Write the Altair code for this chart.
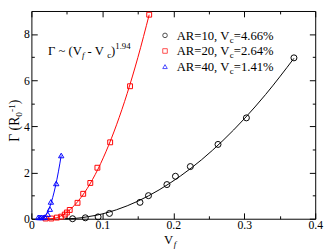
import altair as alt
import pandas as pd

FONT = "Liberation Serif"
W, H = 291, 213

# ---- data ----
black_x = [0.058, 0.076, 0.094, 0.110, 0.153, 0.165, 0.191, 0.203, 0.224, 0.263, 0.303, 0.370]
black_y = [0.00, 0.04, 0.08, 0.23, 0.71, 1.00, 1.48, 1.84, 2.26, 3.22, 4.37, 6.97]

red_x = [0.020, 0.028, 0.036, 0.042, 0.047, 0.050, 0.054, 0.065, 0.073, 0.083, 0.093, 0.111, 0.139, 0.166]
red_y = [0.01, 0.01, 0.05, 0.09, 0.18, 0.27, 0.38, 0.69, 1.08, 1.55, 2.21, 3.31, 5.74, 8.84]

blue_x = [0.0096, 0.012, 0.014, 0.0165, 0.019, 0.023, 0.026, 0.0275, 0.035, 0.042]
blue_y = [0.06, 0.06, 0.06, 0.06, 0.07, 0.20, 0.42, 0.73, 1.53, 2.74]

black_fit_x = [0.047, 0.06, 0.08, 0.10, 0.12, 0.15, 0.18, 0.21, 0.24, 0.27, 0.30, 0.33, 0.37]
black_fit_y = [0.00, 0.01, 0.09, 0.21, 0.39, 0.76, 1.25, 1.85, 2.56, 3.39, 4.33, 5.38, 6.95]

red_fit_x = [0.018, 0.0264, 0.035, 0.045, 0.055, 0.065, 0.075, 0.09, 0.105, 0.12, 0.135, 0.15, 0.166]
red_fit_y = [0.0, 0.0, 0.04, 0.18, 0.41, 0.73, 1.14, 1.92, 2.90, 4.07, 5.43, 6.98, 8.84]

blue_fit_x = [0.009, 0.0141, 0.018, 0.022, 0.026, 0.030, 0.034, 0.038, 0.042]
blue_fit_y = [0.0, 0.0, 0.06, 0.24, 0.52, 0.92, 1.42, 2.03, 2.74]

x_major = [0, 0.1, 0.2, 0.3, 0.4]
x_minor = [0.05, 0.15, 0.25, 0.35]
y_major = [0, 2, 4, 6, 8]
y_minor = [1, 3, 5, 7]

legend_labels = ["AR=10, V", "AR=20, V", "AR=40, V"]
legend_values = ["=4.66%", "=2.64%", "=1.41%"]
legend_colors = ["black", "red", "blue"]
legend_shapes = ["circle", "square", "triangle-up"]

xs = alt.Scale(domain=[0, 0.4], nice=False, zero=False)
ys = alt.Scale(domain=[0, 9], nice=False, zero=False)


def ax(orient, values, size, labels, pad=1):
    return alt.Axis(orient=orient, values=values, tickSize=size, offset=-size,
                    labels=labels, domain=False, grid=False, title=None,
                    tickColor="black", tickWidth=1, labelFont=FONT,
                    labelFontSize=12, labelColor="black", labelFlush=False,
                    labelOverlap=False, labelPadding=pad, format="~g")


def df(x, y):
    return pd.DataFrame({"x": x, "y": y})


def line(x, y, color, xa, ya):
    return alt.Chart(df(x, y)).mark_line(color=color, strokeWidth=1, interpolate="monotone").encode(
        x=alt.X("x:Q", scale=xs, axis=xa), y=alt.Y("y:Q", scale=ys, axis=ya))


def pts(x, y, color, shape, size, xa, ya):
    return alt.Chart(df(x, y)).mark_point(color=color, shape=shape, size=size, filled=False,
                                          strokeWidth=1, opacity=1).encode(
        x=alt.X("x:Q", scale=xs, axis=xa), y=alt.Y("y:Q", scale=ys, axis=ya))


def txt(s, px, py, size=13, dy=0, dx=0, angle=0, italic=False):
    return alt.Chart(pd.DataFrame({"t": [s]})).mark_text(
        align="left", baseline="alphabetic", font=FONT, fontSize=size, dy=dy, dx=dx,
        angle=angle, fontStyle="italic" if italic else "normal", color="black").encode(
        x=alt.value(px), y=alt.value(py), text="t:N")


layers = [
    line(black_fit_x, black_fit_y, "black", ax("bottom", x_major, 6, True, 1), ax("left", y_major, 6, True, 2)),
    pts(black_x, black_y, "black", "circle", 38, ax("bottom", x_minor, 3, False), ax("left", y_minor, 3, False)),
    line(red_fit_x, red_fit_y, "red", ax("top", x_major, 6, False), ax("right", y_major, 6, False)),
    pts(red_x, red_y, "red", "square", 25, ax("top", x_minor, 3, False), ax("right", y_minor, 3, False)),
    line(blue_fit_x, blue_fit_y, "blue", None, None),
    pts(blue_x, blue_y, "blue", "triangle-up", 30, None, None),
]

# legend (symbols + text with subscript)
row_y = [25, 41, 57]
for i in range(3):
    layers.append(
        alt.Chart(pd.DataFrame({"t": [legend_labels[i]]})).mark_point(
            color=legend_colors[i], shape=legend_shapes[i], size=22, filled=False, strokeWidth=1).encode(
            x=alt.value(137), y=alt.value(row_y[i])))
    layers.append(txt(legend_labels[i], 149, row_y[i] + 4.5))
    layers.append(txt("c", 203.3, row_y[i] + 4.5, size=9, dy=3))
    layers.append(txt(legend_values[i], 207.5, row_y[i] + 4.5))

# annotation  Γ ~ (V_f - V_c)^1.94
ax0, ay0 = 17, 45
layers += [
    txt("Γ ~ (V", ax0, ay0),
    txt("f", ax0 + 35, ay0, size=9, dy=3, italic=True),
    txt(" - V", ax0 + 40.5, ay0),
    txt("c", ax0 + 60.7, ay0, size=9, dy=3),
    txt(")", ax0 + 64.7, ay0),
    txt("1.94", ax0 + 69, ay0, size=9, dy=-6),
]

# x title V_f
layers += [
    txt("V", 136, 239),
    txt("f", 146, 239, size=9, dy=3, italic=True),
]

# y title Γ (R_0^-1), rotated
tx, ty = -13, 134
layers += [
    txt("Γ (R", tx, ty, size=14, angle=270),
    txt("0", tx, ty, size=9.5, angle=270, dx=25.6, dy=3),
    txt("-1", tx, ty, size=9.5, angle=270, dx=30.5, dy=-4),
    txt(")", tx, ty, size=14, angle=270, dx=38.5),
]

chart = alt.layer(*layers).resolve_axis(x="independent", y="independent").properties(
    width=W, height=H,
    padding={"left": 24, "top": 0, "right": 9, "bottom": 30},
    autosize=alt.AutoSizeParams(type="none"),
    background="white",
).configure_view(stroke="black", strokeWidth=1)

chart.save("out.html", embed_options={"renderer": "svg", "actions": False})
